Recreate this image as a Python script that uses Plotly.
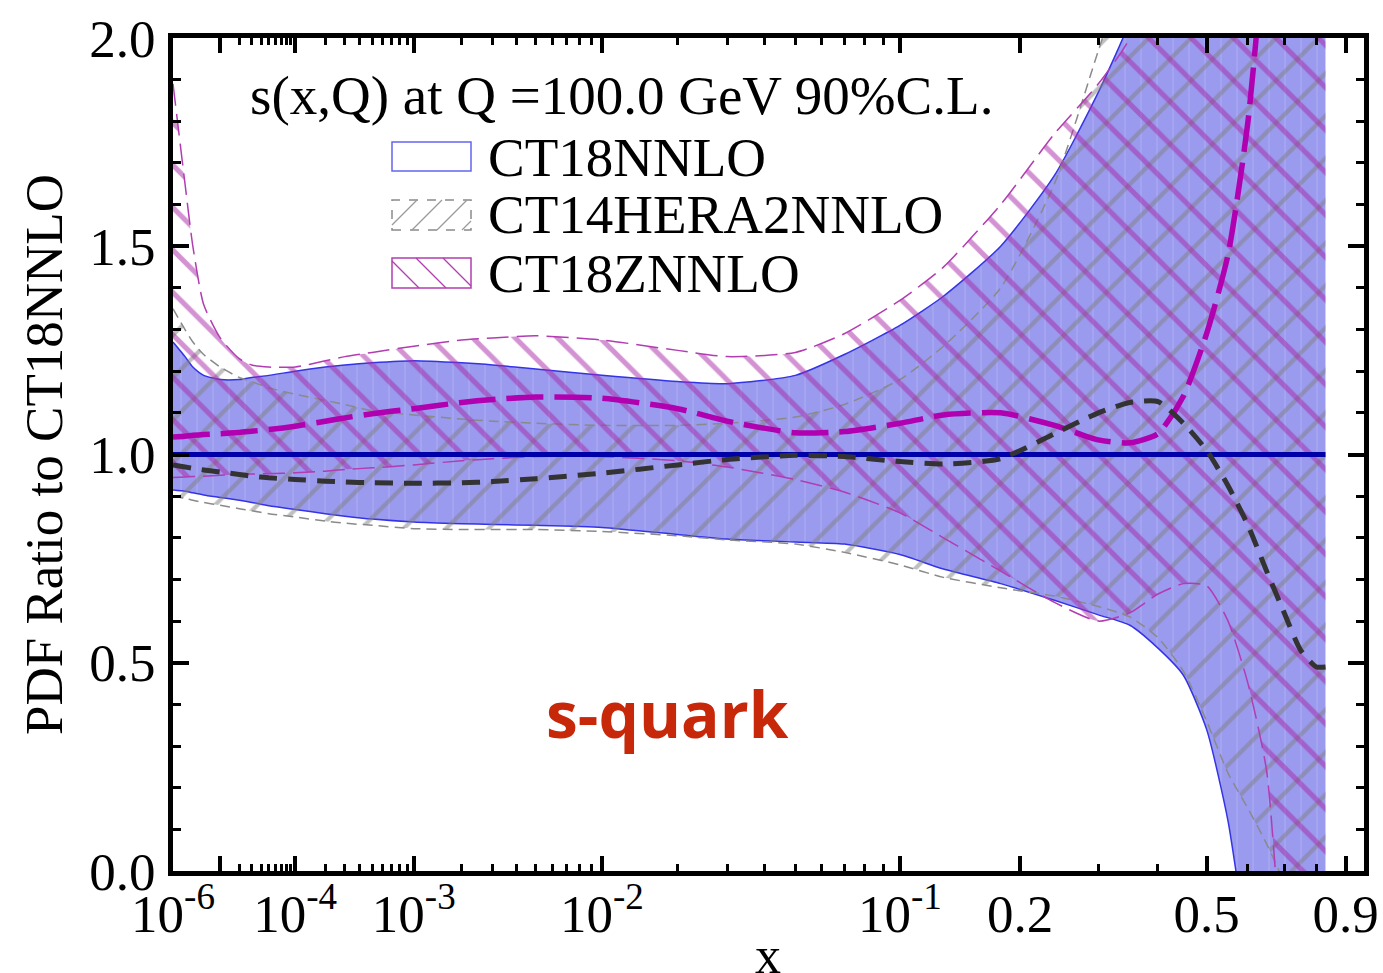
import plotly.graph_objects as go

# ---------------- data (ratio to CT18NNLO, s-quark, Q = 100 GeV) ----------------
x_grid = [1e-6, 2e-6, 3e-6, 5e-6, 1e-5, 2e-5, 3e-5, 5e-5, 1e-4, 2e-4, 3e-4, 5e-4,
          1e-3, 2e-3, 3e-3, 5e-3, 1e-2, 0.02, 0.03, 0.05, 0.07, 0.1, 0.13, 0.18,
          0.24, 0.3, 0.35, 0.4, 0.45, 0.5, 0.55, 0.6, 0.65, 0.7, 0.75, 0.8, 0.83]

ct18_hi = [1.27, 1.235, 1.21, 1.19, 1.18, 1.18, 1.185, 1.19, 1.20, 1.21, 1.215, 1.22,
           1.225, 1.22, 1.215, 1.205, 1.19, 1.175, 1.17, 1.19, 1.24, 1.31, 1.38, 1.50,
           1.67, 1.87, 2.04, 2.25, 2.5, 2.8, 3.1, 3.4, 3.7, 4.0, 4.3, 4.6, 4.8]
ct18_lo = [0.915, 0.912, 0.908, 0.903, 0.897, 0.89, 0.885, 0.877, 0.868, 0.858, 0.852, 0.845,
           0.838, 0.834, 0.832, 0.83, 0.825, 0.808, 0.797, 0.79, 0.785, 0.76, 0.725, 0.69,
           0.65, 0.615, 0.59, 0.535, 0.47, 0.34, 0.12, -0.2, -0.5, -0.8, -1.1, -1.4, -1.6]
ct18_c = [1.0] * len(x_grid)

ct14_hi = [1.35, 1.30, 1.27, 1.24, 1.21, 1.185, 1.175, 1.16, 1.145, 1.13, 1.12, 1.105,
           1.095, 1.085, 1.08, 1.075, 1.07, 1.07, 1.075, 1.09, 1.12, 1.18, 1.26, 1.40,
           1.65, 1.97, 2.2, 2.4, 2.6, 2.8, 3.0, 3.2, 3.4, 3.6, 3.8, 4.0, 4.1]
ct14_lo = [0.90, 0.895, 0.89, 0.885, 0.878, 0.87, 0.865, 0.858, 0.85, 0.84, 0.835, 0.83,
           0.822, 0.82, 0.82, 0.82, 0.815, 0.805, 0.795, 0.785, 0.765, 0.735, 0.705, 0.68,
           0.66, 0.635, 0.61, 0.56, 0.48, 0.36, 0.235, 0.15, 0.065, -0.03, -0.2, -0.4, -0.5]
ct14_c = [0.975, 0.97, 0.967, 0.963, 0.958, 0.952, 0.948, 0.944, 0.94, 0.936, 0.934, 0.932,
          0.931, 0.932, 0.935, 0.942, 0.955, 0.975, 0.988, 0.998, 0.995, 0.983, 0.977, 0.99,
          1.05, 1.10, 1.125, 1.127, 1.075, 1.01, 0.925, 0.83, 0.72, 0.62, 0.53, 0.49, 0.49]

ct18z_hi = [1.89, 1.65, 1.50, 1.36, 1.28, 1.23, 1.215, 1.21, 1.21, 1.225, 1.235, 1.245,
            1.26, 1.275, 1.28, 1.285, 1.275, 1.25, 1.235, 1.245, 1.29, 1.37, 1.45, 1.60,
            1.77, 1.89, 2.0, 2.2, 2.4, 2.7, 3.0, 3.3, 3.6, 3.9, 4.2, 4.5, 4.7]
ct18z_lo = [0.945, 0.946, 0.947, 0.948, 0.95, 0.952, 0.953, 0.954, 0.956, 0.96, 0.964, 0.968,
            0.975, 0.985, 0.99, 0.995, 0.995, 0.985, 0.97, 0.94, 0.91, 0.86, 0.80, 0.72,
            0.645, 0.60, 0.62, 0.665, 0.69, 0.685, 0.60, 0.45, 0.24, -0.3, -0.8, -1.2, -1.5]
ct18z_c = [1.042, 1.044, 1.046, 1.048, 1.05, 1.053, 1.056, 1.06, 1.068, 1.08, 1.088, 1.098,
           1.11, 1.125, 1.132, 1.138, 1.135, 1.11, 1.08, 1.052, 1.055, 1.075, 1.095, 1.10,
           1.07, 1.035, 1.028, 1.05, 1.14, 1.29, 1.48, 1.80, 2.3, 3.0, 3.8, 4.5, 5.0]

series_names = ["CT18NNLO", "CT14HERA2NNLO", "CT18ZNNLO"]

# axis ticks
x_min, x_max = 1e-6, 0.968
xtick_vals = [1e-6, 1e-5, 1e-4, 1e-3, 1e-2, 0.1, 0.2, 0.5, 0.9]
xtick_text = ["10<sup>-6</sup>", " ", "10<sup>-4</sup>", "10<sup>-3</sup>", "10<sup>-2</sup>",
              "10<sup>-1</sup>", "0.2", "0.5", "0.9"]
xminor_vals = [k * 10.0 ** e for e in (-5, -4, -3, -2) for k in range(2, 10)] + [0.3, 0.4, 0.6, 0.7, 0.8]

# ---------------- scale: x axis is linear in x**0.2 ----------------
P = 0.2
def sc(v):
    return [t ** P for t in v]

U = sc(x_grid)
FONT = "Liberation Serif"

fig = go.Figure()

def band(lo, hi, edge_color, edge_dash, fillcolor, pattern, name):
    fig.add_trace(go.Scatter(x=U, y=lo, mode="lines", name=name, showlegend=False,
                             line=dict(color=edge_color, width=1.5, dash=edge_dash, shape="spline", smoothing=0.6),
                             hoverinfo="skip"))
    fig.add_trace(go.Scatter(x=U, y=hi, mode="lines", name=name, showlegend=False,
                             line=dict(color=edge_color, width=1.5, dash=edge_dash, shape="spline", smoothing=0.6),
                             fill="tonexty", fillcolor=fillcolor, fillpattern=pattern,
                             hoverinfo="skip"))

band(ct18_lo, ct18_hi, "#3434E6", "solid", "#9A9AEE",
     dict(shape="|", fgcolor="rgba(255,255,255,0.3)", bgcolor="#9A9AEE", size=16, solidity=0.08),
     series_names[0])
band(ct14_lo, ct14_hi, "#8A8A8A", "10px,6px", "rgba(0,0,0,0)",
     dict(shape="/", fgcolor="#808080", bgcolor="rgba(0,0,0,0)", size=30, solidity=0.14),
     series_names[1])
band(ct18z_lo, ct18z_hi, "#B23CB2", "22px,8px", "rgba(0,0,0,0)",
     dict(shape="\\", fgcolor="#A828A8", bgcolor="rgba(0,0,0,0)", size=30, solidity=0.17),
     series_names[2])

fig.add_trace(go.Scatter(x=U, y=ct18_c, mode="lines", showlegend=False,
                         line=dict(color="#0000A8", width=5)))
fig.add_trace(go.Scatter(x=U, y=ct18z_c, mode="lines", showlegend=False,
                         line=dict(color="#B000B0", width=5.5, dash="37px,11px", shape="spline", smoothing=0.6)))
fig.add_trace(go.Scatter(x=U, y=ct14_c, mode="lines", showlegend=False,
                         line=dict(color="#333333", width=5, dash="18px,11px", shape="spline", smoothing=0.6)))

# ---------------- layout ----------------
L, R, T, B = 173, 1364, 38, 871
W, H = R - L, B - T

def px(xp, yp):
    return (xp - L) / W, (B - yp) / H

shapes = []
def rect(x0, y0, x1, y1, color, dash="solid"):
    a, b = px(x0, y1)
    c, d = px(x1, y0)
    shapes.append(dict(type="rect", xref="paper", yref="paper", x0=a, y0=b, x1=c, y1=d,
                       line=dict(color=color, width=1.5, dash=dash), fillcolor="rgba(0,0,0,0)"))

def seg(x0, y0, x1, y1, color):
    a, b = px(x0, y0)
    c, d = px(x1, y1)
    shapes.append(dict(type="line", xref="paper", yref="paper", x0=a, y0=b, x1=c, y1=d,
                       line=dict(color=color, width=1.2)))

def hatch(x0, y0, x1, y1, color, direction, step):
    h = y1 - y0
    start = x0 - h
    k = 0
    while True:
        xs = start + k * step
        if xs > x1:
            break
        if direction == "/":
            pa = (xs, y1); pb = (xs + h, y0)
        else:
            pa = (xs, y0); pb = (xs + h, y1)
        (ax, ay), (bx, by) = pa, pb
        dx, dy = bx - ax, by - ay
        t0, t1 = 0.0, 1.0
        if ax < x0:
            t0 = max(t0, (x0 - ax) / dx)
        if bx > x1:
            t1 = min(t1, (x1 - ax) / dx)
        if t1 > t0 + 0.05:
            seg(ax + t0 * dx, ay + t0 * dy, ax + t1 * dx, ay + t1 * dy, color)
        k += 1

rect(392, 142, 471, 171, "#6464F2")
rect(392, 200, 471, 230, "#8A8A8A", "dash")
hatch(392, 200, 471, 230, "#9A9A9A", "/", 25)
rect(392, 258, 471, 288, "#B23CB2")
hatch(392, 258, 471, 288, "#B23CB2", "\\", 27)

annotations = []
tx, ty = px(248, 95)
annotations.append(dict(xref="paper", yref="paper", x=tx, y=ty, xanchor="left", yanchor="middle",
                        text="s(x,Q) at Q =100.0 GeV 90%C.L.", showarrow=False,
                        font=dict(family=FONT, size=55, color="black")))
for name, yc in zip(series_names, [157, 215, 273]):
    a, b = px(486, yc)
    annotations.append(dict(xref="paper", yref="paper", x=a, y=b, xanchor="left", yanchor="middle",
                            text=name, showarrow=False, font=dict(family=FONT, size=55, color="black")))
a, b = px(667, 713)
annotations.append(dict(xref="paper", yref="paper", x=a, y=b, xanchor="center", yanchor="middle",
                        text="<b>s-quark</b>", showarrow=False,
                        font=dict(family="Open Sans", size=64, color="#C8280A")))
# x-axis title (placed like the reference, partly below the page edge)
a, b = px(768, 955)
annotations.append(dict(xref="paper", yref="paper", x=a, y=b, xanchor="center", yanchor="middle",
                        text="x", showarrow=False, font=dict(family=FONT, size=52, color="black")))

fig.update_layout(
    width=1383, height=973,
    margin=dict(l=L, r=1383 - R, t=T, b=973 - B, autoexpand=False),
    paper_bgcolor="white", plot_bgcolor="white",
    font=dict(family=FONT, size=50, color="black"),
    shapes=shapes, annotations=annotations,
    showlegend=False,
)
fig.update_xaxes(
    range=[x_min ** P, x_max ** P], automargin=False,
    tickmode="array", tickvals=sc(xtick_vals), ticktext=xtick_text, tickangle=0,
    ticks="inside", ticklen=15, tickwidth=4, tickcolor="black",
    minor=dict(tickmode="array", tickvals=sc(xminor_vals), ticks="inside", ticklen=7, tickwidth=3, tickcolor="black"),
    showline=True, linewidth=5, linecolor="black", mirror="allticks",
    showgrid=False, zeroline=False,
    tickfont=dict(family=FONT, size=53),
    ticklabelstandoff=-8,
)
fig.update_yaxes(
    range=[0, 2.0], automargin=False, tickmode="linear", tick0=0, dtick=0.5, tickformat=".1f",
    ticks="inside", ticklen=16, tickwidth=4, tickcolor="black",
    minor=dict(dtick=0.1, ticks="inside", ticklen=8, tickwidth=3, tickcolor="black"),
    showline=True, linewidth=5, linecolor="black", mirror="allticks",
    showgrid=False, zeroline=False,
    tickfont=dict(family=FONT, size=53),
    ticklabelstandoff=2,
    title=dict(text="PDF Ratio to CT18NNLO", font=dict(family=FONT, size=53), standoff=11),
)

fig.write_html("out.html", config={"displayModeBar": False},
               post_script="document.body.style.margin='0';")
